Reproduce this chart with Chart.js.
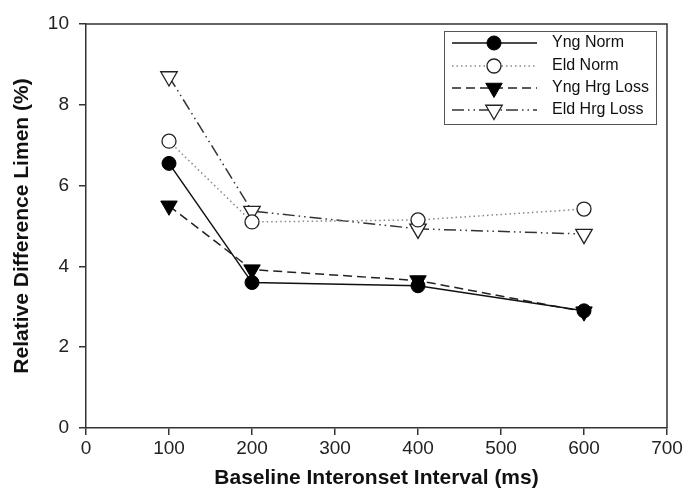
<!DOCTYPE html>
<html><head><meta charset="utf-8">
<script src="https://cdn.jsdelivr.net/npm/chart.js@4/dist/chart.umd.min.js"></script>
<style>html,body{margin:0;padding:0;background:#fff;}canvas{display:block;}</style>
</head><body>
<canvas id="c" width="687" height="493"></canvas>
<script>
const xValues = [100, 200, 400, 600];
const yngNorm = [6.55, 3.6, 3.52, 2.9];
const eldNorm = [7.1, 5.1, 5.15, 5.42];
const yngHrgLoss = [5.5, 3.92, 3.65, 2.88];
const eldHrgLoss = [8.7, 5.37, 4.93, 4.8];
const seriesLabels = ['Yng Norm', 'Eld Norm', 'Yng Hrg Loss', 'Eld Hrg Loss'];
const xTitle = 'Baseline Interonset Interval (ms)';
const yTitle = 'Relative Difference Limen (%)';

const FONT = '"Liberation Sans", Arial, sans-serif';
const toPts = arr => arr.map((v, i) => ({x: xValues[i], y: v}));

const datasets = [
  {label: seriesLabels[0], data: toPts(yngNorm), borderColor: '#111', borderWidth: 1.5, borderDash: [],
   pointStyle: 'circle', pointRadius: 7, pointBackgroundColor: '#000', pointBorderColor: '#000', pointBorderWidth: 1, pointRotation: 0},
  {label: seriesLabels[1], data: toPts(eldNorm), borderColor: '#888', borderWidth: 1.5, borderDash: [1.5, 3],
   pointStyle: 'circle', pointRadius: 7, pointBackgroundColor: '#fff', pointBorderColor: '#222', pointBorderWidth: 1.3, pointRotation: 0},
  {label: seriesLabels[2], data: toPts(yngHrgLoss), borderColor: '#222', borderWidth: 1.5, borderDash: [9, 5],
   pointStyle: 'triangle', pointRadius: 9.5, pointBackgroundColor: '#000', pointBorderColor: '#000', pointBorderWidth: 1, pointRotation: 180},
  {label: seriesLabels[3], data: toPts(eldHrgLoss), borderColor: '#333', borderWidth: 1.5, borderDash: [12, 4, 1.5, 4, 1.5, 4],
   pointStyle: 'triangle', pointRadius: 9.5, pointBackgroundColor: '#fff', pointBorderColor: '#222', pointBorderWidth: 1.3, pointRotation: 180}
];
datasets.forEach(d => { d.fill = false; d.tension = 0; d.borderCapStyle = 'butt'; });

const framePlugin = {
  id: 'frame',
  beforeDatasetsDraw(chart) {
    const {ctx, chartArea: a} = chart;
    ctx.save();
    ctx.strokeStyle = '#333';
    ctx.lineWidth = 1.5;
    ctx.beginPath();
    ctx.moveTo(a.left, a.top); ctx.lineTo(a.right, a.top); ctx.lineTo(a.right, a.bottom);
    ctx.stroke();
    ctx.restore();
  }
};

const legendPlugin = {
  id: 'insideLegend',
  afterDatasetsDraw(chart) {
    const {ctx} = chart;
    const box = {x: 444, y: 31, w: 212, h: 93};
    ctx.save();
    ctx.fillStyle = '#fff';
    ctx.fillRect(box.x, box.y, box.w, box.h);
    ctx.strokeStyle = '#555';
    ctx.lineWidth = 1;
    ctx.strokeRect(box.x + 0.5, box.y + 0.5, box.w, box.h);
    const rowY = [43, 66, 88, 110];
    chart.data.datasets.forEach((d, i) => {
      const y = rowY[i];
      ctx.save();
      ctx.strokeStyle = d.borderColor;
      ctx.lineWidth = d.borderWidth;
      ctx.setLineDash(d.borderDash || []);
      ctx.beginPath(); ctx.moveTo(452, y); ctx.lineTo(537, y); ctx.stroke();
      ctx.restore();
      ctx.save();
      ctx.fillStyle = d.pointBackgroundColor;
      ctx.strokeStyle = d.pointBorderColor;
      ctx.lineWidth = d.pointBorderWidth;
      Chart.helpers.drawPoint(ctx, {pointStyle: d.pointStyle, radius: d.pointRadius, rotation: d.pointRotation, borderWidth: d.pointBorderWidth}, 494, y);
      ctx.restore();
      ctx.fillStyle = '#111';
      ctx.font = '16px ' + FONT;
      ctx.textBaseline = 'middle';
      ctx.textAlign = 'left';
      ctx.fillText(d.label, 552, y);
    });
    ctx.restore();
  }
};

new Chart(document.getElementById('c'), {
  type: 'line',
  data: {datasets},
  options: {
    responsive: false,
    animation: false,
    layout: {padding: {top: 24, right: 20, left: 0, bottom: 0}},
    plugins: {legend: {display: false}, tooltip: {enabled: false}},
    scales: {
      x: {
        type: 'linear', min: 0, max: 700,
        ticks: {stepSize: 100, color: '#222', font: {family: FONT, size: 19}, padding: 2, maxRotation: 0},
        grid: {drawOnChartArea: false, color: '#333', tickLength: 7, lineWidth: 1.5},
        border: {color: '#333', width: 1.5},
        title: {display: true, text: xTitle, color: '#111', font: {family: FONT, size: 21, weight: 'bold'}, padding: {top: 4, bottom: 2}},
        afterFit(s) { s.height = 65; }
      },
      y: {
        min: 0, max: 10,
        ticks: {stepSize: 2, color: '#222', font: {family: FONT, size: 19}, padding: 10},
        grid: {drawOnChartArea: false, color: '#333', tickLength: 7, lineWidth: 1.5},
        border: {color: '#333', width: 1.5},
        title: {display: true, text: yTitle, color: '#111', font: {family: FONT, size: 21, weight: 'bold'}, padding: {top: 10, bottom: 4}},
        afterFit(s) { s.width = 86; }
      }
    }
  },
  plugins: [framePlugin, legendPlugin]
});
</script>
</body></html>
